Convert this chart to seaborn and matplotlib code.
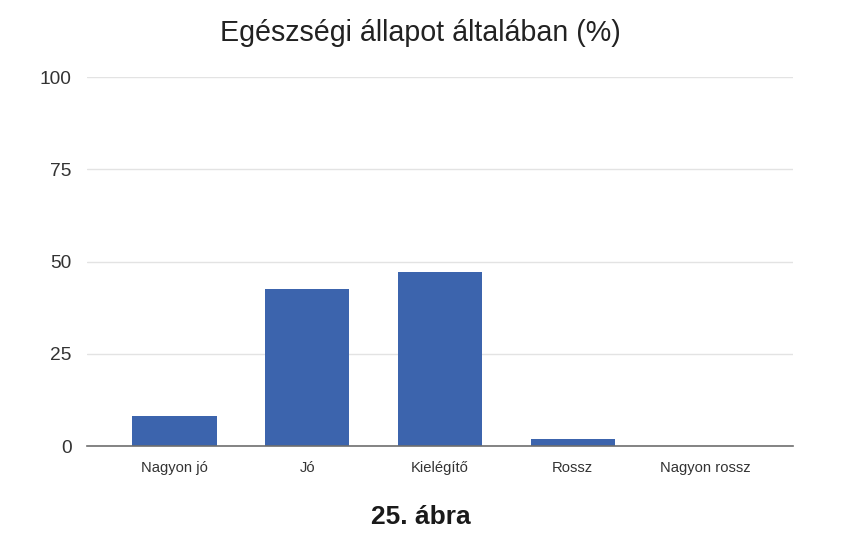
import matplotlib
matplotlib.use("Agg")
import matplotlib.pyplot as plt
import seaborn as sns
import pandas as pd

# Survey answers (percent)
categories = ["Nagyon jó", "Jó", "Kielégítő", "Rossz", "Nagyon rossz"]
values = [8.2, 42.5, 47.2, 2.0, 0.0]
y_ticks = [0, 25, 50, 75, 100]

TITLE = "Egészségi állapot általában (%)"
CAPTION = "25. ábra"

sns.set_style("white")
plt.rcParams["font.family"] = ["Liberation Sans", "DejaVu Sans"]

df = pd.DataFrame({"kategoria": categories, "ertek": values})

fig = plt.figure(figsize=(8.41, 5.52), dpi=100)
ax = fig.add_axes([0.1034, 0.192, 0.8396, 0.6685])

sns.barplot(data=df, x="kategoria", y="ertek", color="#3c64ad",
            saturation=1, width=0.635, linewidth=0, ax=ax)

ax.set_xlim(-0.66, 4.66)
ax.set_ylim(0, 100)
ax.set_yticks(y_ticks)
ax.yaxis.grid(True, color="#e3e3e3", linewidth=1)
ax.set_axisbelow(True)
for side in ["top", "right", "left"]:
    ax.spines[side].set_visible(False)
ax.spines["bottom"].set_color("#6e6e6e")
ax.spines["bottom"].set_linewidth(1.2)
ax.spines["bottom"].set_zorder(3)

ax.tick_params(axis="y", length=0, pad=11, labelsize=13.8, labelcolor="#333333")
ax.tick_params(axis="x", length=0, pad=11, labelsize=10.6, labelcolor="#333333")
ax.set_xlabel("")
ax.set_ylabel("")

fig.text(0.5, 0.94, TITLE, ha="center", va="center", fontsize=20.6, color="#222222")
fig.text(0.5, 0.063, CAPTION, ha="center", va="center", fontsize=19,
         fontweight="bold", color="#1a1a1a")

fig.savefig("out.png", dpi=100, facecolor="white")
